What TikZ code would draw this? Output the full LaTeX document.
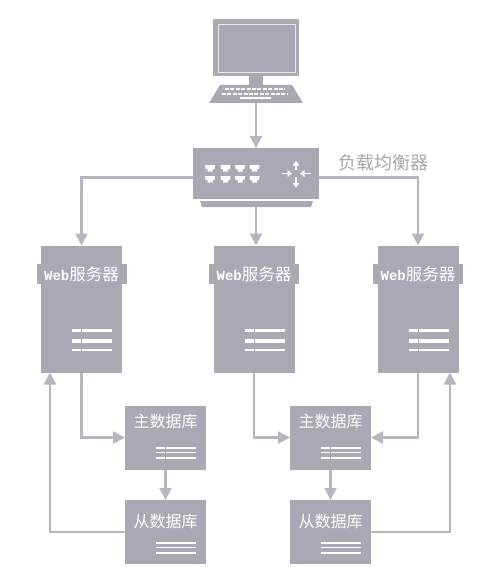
\documentclass[tikz,border=0pt]{standalone}
\usepackage{fontspec}
\newfontfamily\cjk{Noto Sans CJK SC}
\newfontfamily\webfont{Liberation Mono}
\usepackage{xcolor}
\usetikzlibrary{arrows.meta, positioning, calc}
\definecolor{boxgray}{HTML}{A9A9B4}
\definecolor{linegray}{HTML}{B6B6BE}
\definecolor{labelgray}{HTML}{A6A6AC}

\begin{document}
\begin{tikzpicture}[
    x=1pt, y=-1pt,
    box/.style={
        draw=none,
        fill=boxgray,
        inner sep=0pt,
        outer sep=0pt
    },
    srvbox/.style={box, minimum width=81pt, minimum height=127pt},
    srvband/.style={
        box,
        minimum width=90pt,
        minimum height=20pt,
        text=white,
        font=\fontsize{16.5}{16}\selectfont\cjk
    },
    dbbox/.style={box, minimum width=81pt, minimum height=64pt},
    dbtext/.style={
        inner sep=0pt,
        text=white,
        font=\fontsize{16}{16}\selectfont\cjk
    },
    conn/.style={
        draw=linegray,
        line width=2.1pt,
        -{Triangle[length=12pt,width=12pt]}
    },
    rowline/.style={draw=white, line width=3.2pt},
    dbline/.style={draw=white, line width=1.6pt},
    keyrow/.style={draw=white, line width=2.6pt, dash pattern=on 4pt off 1.4pt},
    tinyarrow/.style={draw=white, line width=1.4pt, -{Triangle[length=4.5pt,width=6.5pt]}}
]
\useasboundingbox (0,0) rectangle (500,567);

% Monitor and keyboard
\node[box, minimum width=86pt, minimum height=57pt] (pc) at (256,47.5) {};
\draw[white, opacity=0.75, line width=0.9pt] (218.5,24) rectangle (295,72);
\fill[boxgray] (249,76) rectangle (263,85);
\fill[boxgray] (220,85) -- (292,85) -- (303,103) -- (209,103) -- cycle;
\draw[keyrow] (225,89) -- (285,89);
\draw[keyrow] (222,94) -- (288,94);
\draw[draw=white, line width=2pt] (240,98.5) -- (271,98.5);
\coordinate (kb) at (256,103);

% Load balancer
\node[box, minimum width=126pt, minimum height=51pt] (sw) at (256,173.5) {};
\fill[boxgray] (200,201) -- (313,201) -- (311,207) -- (202,207) -- cycle;
\coordinate (swbase) at (256,207);
\node[inner sep=0pt, text=labelgray, font=\fontsize{18}{18}\selectfont\cjk]
    (swlabel) at (383,163) {负载均衡器};

% Ports on the switch
\foreach \x in {210,225.5,240,254.5} {
    \foreach \y in {165,176} {
        \fill[white] (\x-5,\y) -- (\x+5,\y) -- (\x+4.5,\y+4) -- (\x+2.5,\y+4)
            -- (\x+2.5,\y+6.5) -- (\x-2.5,\y+6.5) -- (\x-2.5,\y+4) -- (\x-4.5,\y+4) -- cycle;
    }
}

% Routing arrows on the switch
\draw[tinyarrow] (296,170) -- (296,161);
\draw[tinyarrow] (296,177) -- (296,187.5);
\draw[tinyarrow] (282,173.5) -- (292,173.5);
\draw[tinyarrow] (310.5,173.5) -- (300,173.5);

% Web servers
\foreach \n/\x in {L/81.5,M/254,R/418} {
    \node[srvbox] (srv\n) at (\x,309) {};
    \node[srvband] (band\n) at (\x,274) {{\webfont\bfseries\fontsize{14}{14}\selectfont Web}服务器};
    \begin{scope}[shift={(\x,0)}]
        \draw[rowline] (-9.5,330.5) -- (-0.5,330.5);
        \draw[rowline] (0.5,330.5) -- (30.5,330.5);
        \draw[rowline] (-9.5,341) -- (-0.5,341);
        \draw[rowline] (0.5,341) -- (30.5,341);
        \draw[rowline, line width=2.4pt] (-9.5,350) -- (-0.5,350);
        \draw[rowline, line width=2.4pt] (0.5,350) -- (30.5,350);
    \end{scope}
}

% Databases
\foreach \n/\x in {L/165.5,R/330.5} {
    \node[dbbox] (master\n) at (\x,437.5) {};
    \node[dbtext] (mastertext\n) at (\x,421) {主数据库};
    \node[dbbox] (slave\n) at (\x,532) {};
    \node[dbtext] (slavetext\n) at (\x,521) {从数据库};
    \begin{scope}[shift={(\x,0)}]
        \foreach \y in {448,452.5,458} {
            \draw[dbline] (-9.5,\y) -- (-0.5,\y);
            \draw[dbline] (0.5,\y) -- (30,\y);
        }
        \foreach \y in {543,547.5,553} {
            \draw[dbline] (-9.5,\y) -- (30,\y);
        }
    \end{scope}
}

% Connectors
\draw[conn] (kb) -- (sw.north);
\draw[conn] ([yshift=-4pt]sw.west) -| (srvL.north);
\draw[conn] ([yshift=-4pt]sw.east) -| (srvR.north);
\draw[conn] (swbase) -- (swbase |- srvM.north);

\draw[conn] (srvL.south) |- (masterL.west);
\draw[conn] (srvM.south) |- (masterR.west);
\draw[conn] (srvR.south) |- (masterR.east);

\draw[conn] (masterL.south) -- (slaveL.north);
\draw[conn] (masterR.south) -- (slaveR.north);

\draw[conn] (slaveL.west) -| ([xshift=-31.5pt]srvL.south);
\draw[conn] (slaveR.east) -| ([xshift=32pt]srvR.south);
\end{tikzpicture}
\end{document}
